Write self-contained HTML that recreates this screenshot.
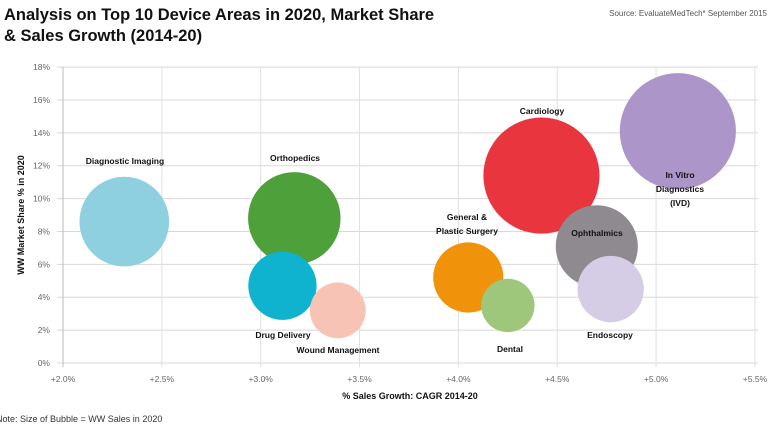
<!DOCTYPE html>
<html><head><meta charset="utf-8"><style>
body{margin:0;background:#fff;width:774px;height:432px;overflow:hidden;font-family:"Liberation Sans",sans-serif}
svg text{font-family:"Liberation Sans",sans-serif}
</style></head><body>
<svg id="chart" width="774" height="432" xmlns="http://www.w3.org/2000/svg">
<text x="4" y="20" font-size="16.5" font-weight="bold" fill="#111">Analysis on Top 10 Device Areas in 2020, Market Share</text>
<text x="4" y="41" font-size="16.5" font-weight="bold" fill="#111">&amp; Sales Growth (2014-20)</text>
<text x="767" y="16" font-size="8" fill="#555" text-anchor="end">Source: EvaluateMedTech* September 2015</text>
<text x="-4" y="422" font-size="9" fill="#333">Note: Size of Bubble = WW Sales in 2020</text>
<text x="410" y="399" font-size="9" font-weight="bold" fill="#111" text-anchor="middle">% Sales Growth: CAGR 2014-20</text>
<text transform="translate(24,215) rotate(-90)" font-size="9" font-weight="bold" fill="#111" text-anchor="middle">WW Market Share % in 2020</text>
<g id="grid"></g><g id="bubbles"></g><g id="labels"></g>
</svg>
<script>
const names=["Diagnostic Imaging","Orthopedics","Drug Delivery","Wound Management","General & Plastic Surgery","Dental","Cardiology","Ophthalmics","Endoscopy","In Vitro Diagnostics (IVD)"];
const growth=[2.31,3.17,3.11,3.39,4.05,4.25,4.42,4.70,4.77,5.11];
const share=[8.6,8.8,4.7,3.2,5.2,3.5,11.4,7.1,4.5,14.1];
const sales=[31,33,18,12,19,11,52,26,17,52];
const colors=["#8ecfe0","#4ea03a","#0fb2cf","#f6c3b4","#f0920a","#9ec77c","#e8353e","#8e8a8f","#d5cde6","#ab95c9"];
const xTicks=[2.0,2.5,3.0,3.5,4.0,4.5,5.0,5.5];
const yTicks=[0,2,4,6,8,10,12,14,16,18];
const labelPos=[[125,164,"Diagnostic Imaging"],[295,161,"Orthopedics"],[283,338,"Drug Delivery"],[338,353,"Wound Management"],[467,220,"General &|Plastic Surgery"],[510,352,"Dental"],[542,114,"Cardiology"],[597,236,"Ophthalmics"],[610,338,"Endoscopy"],[680,178,"In Vitro|Diagnostics|(IVD)"]];
const X=v=>63+(v-2)*197.7;
const Y=v=>363-v*16.44;
const R=v=>Math.sqrt(v)*8.05;
const NS="http://www.w3.org/2000/svg";
function mk(t,a,p){const e=document.createElementNS(NS,t);for(const k in a)e.setAttribute(k,a[k]);p.appendChild(e);return e;}
const g=document.getElementById('grid');
yTicks.forEach(t=>{
 const l=mk('line',{x1:57,x2:758,y1:Y(t),y2:Y(t),stroke:'#d8d8d8','stroke-width':1},g);
 
 
 const tx=mk('text',{x:50,y:Y(t)+3,'font-size':8.5,fill:'#666','text-anchor':'end'},g);tx.textContent=t+'%';
 
 
});
xTicks.forEach(t=>{
 const l=mk('line',{x1:X(t),x2:X(t),y1:Y(18),y2:Y(0)+4,stroke:t==2?'#bbb':'#e0e0e0','stroke-width':1},g);
 
 
 const tx=mk('text',{x:X(t),y:382,'font-size':8.5,fill:'#666','text-anchor':'middle'},g);tx.textContent='+'+t.toFixed(1)+'%';
 
 
});
const b=document.getElementById('bubbles');
names.forEach((n,i)=>{
 const c=mk('circle',{cx:X(growth[i]),cy:Y(share[i]),r:R(sales[i]),fill:colors[i]},b);
 
 
});
const lb=document.getElementById('labels');
labelPos.forEach(p=>{
 const lines=p[2].split('|');
 lines.forEach((s,j)=>{
  const t=mk('text',{x:p[0],y:p[1]+j*14,'font-size':8.5,'font-weight':'bold',fill:'#111','text-anchor':'middle'},lb);
  t.textContent=s;
  
  
 });
});
</script>
</body></html>
